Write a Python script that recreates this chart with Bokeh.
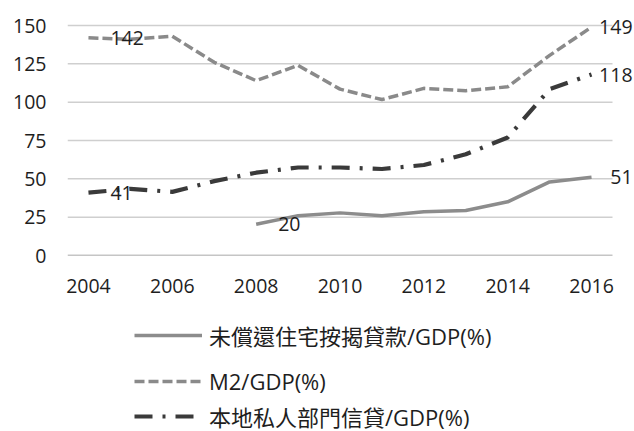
from bokeh.plotting import figure
from bokeh.layouts import column
from bokeh.models import Legend, LegendItem, Label, FixedTicker, Range1d
from bokeh.embed import file_html
from bokeh.resources import INLINE

years = list(range(2004, 2017))
mortgage_years = list(range(2008, 2017))
mortgage = [20.4, 26, 27.8, 26, 28.6, 29.3, 35, 48, 51]
m2 = [142, 141, 143, 126, 114, 124, 108.5, 101.7, 109, 107.5, 110, 130.5, 149]
credit = [41, 43.5, 41.5, 48.5, 54, 57.4, 57.4, 56.4, 59, 66, 77, 108.5, 118]
x_ticks = [2004, 2006, 2008, 2010, 2012, 2014, 2016]
y_ticks = [0, 25, 50, 75, 100, 125, 150]
names = ["未償還住宅按揭貸款/GDP(%)", "M2/GDP(%)", "本地私人部門信貸/GDP(%)"]

FONT = "'Open Sans', 'Noto Sans CJK TC'"
TXT = "#1e1e1e"
W = 634

x_start, x_end = 2003.5, 2016.5
px_per_year = 545 / (x_end - x_start)
frame_w = W - 67
y_lo, y_hi = 0, 150
px_per_unit = 230 / (y_hi - y_lo)
top_pad = 25  # room above the 150 line inside the frame

styles = [dict(line_color="#8c8c8c", line_width=3.5),
          dict(line_color="#8a8a8a", line_width=3.5, line_dash="10 4"),
          dict(line_color="#3a3a3a", line_width=4.2, line_dash="18 10 3 10")]

p = figure(width=W, height=300, min_border_left=67, min_border_right=0,
           min_border_top=0, min_border_bottom=45,
           x_range=Range1d(x_start, x_start + frame_w / px_per_year),
           y_range=Range1d(y_lo, y_hi + top_pad / px_per_unit),
           output_backend="svg", toolbar_location=None)
p.outline_line_color = None
p.xgrid.visible = False
p.ygrid.visible = False

# horizontal gridlines over the plot area only, and the baseline
p.segment(x0=x_start, x1=x_end, y0=y_ticks[1:], y1=y_ticks[1:],
          line_color="#cfcfcf", line_width=1.5)
p.segment(x0=x_start, x1=x_end, y0=y_ticks[0], y1=y_ticks[0],
          line_color="#8c8c8c", line_width=1.5)

p.yaxis.ticker = FixedTicker(ticks=y_ticks)
p.yaxis.axis_line_color = None
p.yaxis.major_tick_line_color = None
p.yaxis.minor_tick_line_color = None
p.yaxis.major_label_standoff = 15
p.yaxis.major_label_text_font = FONT
p.yaxis.major_label_text_font_size = "19.5px"
p.yaxis.major_label_text_color = TXT

p.xaxis.ticker = FixedTicker(ticks=x_ticks)
p.xaxis.axis_line_color = None
p.xaxis.major_tick_line_color = None
p.xaxis.minor_tick_line_color = None
p.xaxis.major_label_standoff = 17
p.xaxis.major_label_text_font = FONT
p.xaxis.major_label_text_font_size = "19.5px"
p.xaxis.major_label_text_color = TXT

p.line(mortgage_years, mortgage, **styles[0])
p.line(years, m2, **styles[1])
p.line(years, credit, **styles[2])

def lab(x, y, txt, xo, align):
    p.add_layout(Label(x=x, y=y, text=txt, x_offset=xo, y_offset=0,
                       text_align=align, text_baseline="middle",
                       text_font=FONT, text_font_size="19.5px", text_color=TXT))

lab(years[0], m2[0], f"{m2[0]:.0f}", 22, "left")
lab(years[0], credit[0], f"{credit[0]:.0f}", 22, "left")
lab(mortgage_years[0], mortgage[0], f"{mortgage[0]:.0f}", 22, "left")
lab(years[-1], m2[-1], f"{m2[-1]:.0f}", 41, "right")
lab(years[-1], credit[-1], f"{credit[-1]:.0f}", 41, "right")
lab(mortgage_years[-1], mortgage[-1], f"{mortgage[-1]:.0f}", 41, "right")

# legend area below the chart
lf = figure(width=W, height=131, min_border=0, x_range=Range1d(0, 1),
            y_range=Range1d(0, 1), x_axis_type=None, y_axis_type=None,
            output_backend="svg", toolbar_location=None)
lf.outline_line_color = None
lf.grid.visible = False
series = [(mortgage_years, mortgage), (years, m2), (years, credit)]
legend_rows = [80, 35, -1]
for name, st, (xs, ys), yy in zip(names, styles, series, legend_rows):
    r = lf.line(xs, ys, **st)  # data lies outside this panel's range; only the legend swatch shows
    lg = Legend(items=[LegendItem(label=name, renderers=[r])],
                location=(67, yy), orientation="vertical",
                glyph_width=68, glyph_height=24, label_height=24,
                padding=0, margin=0, label_standoff=7,
                border_line_color=None, background_fill_alpha=0,
                label_text_font=FONT, label_text_font_size="22px",
                label_text_color=TXT)
    lf.add_layout(lg)

layout = column(p, lf, spacing=0)
open("out.html", "w").write(file_html(layout, INLINE))
